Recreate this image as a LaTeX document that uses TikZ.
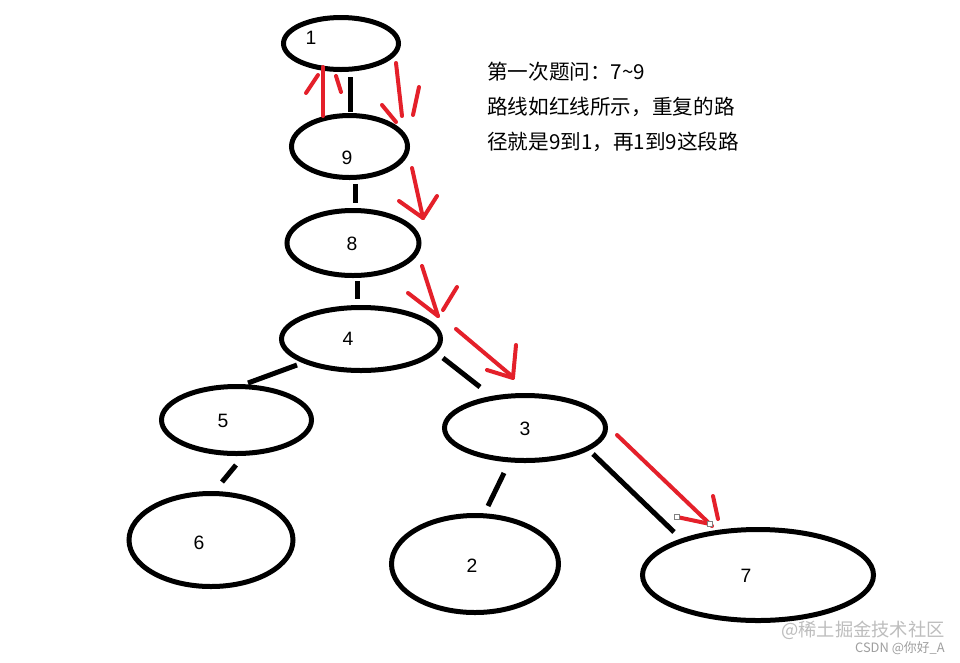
\documentclass[tikz,border=0pt]{standalone}
\usepackage{fontspec}
\setmainfont{Liberation Sans}
\newfontfamily\cjk{Noto Sans CJK SC}
\usetikzlibrary{shapes.geometric,calc}
\definecolor{ink}{HTML}{000000}
\definecolor{route}{HTML}{E4202A}
\definecolor{wmark}{HTML}{BDBDBD}
\newlength\pxu
\setlength\pxu{0.03cm}
\tikzset{
  vert/.style={ellipse, draw=ink, line width=5\pxu, inner sep=0pt},
  num/.style={font=\fontsize{16.5}{18}\selectfont, inner sep=0pt},
  edge/.style={draw=ink, line width=5\pxu},
  pen/.style={draw=route, line width=4\pxu, line cap=round},
  handle/.style={rectangle, draw=gray, fill=white, line width=0.4pt, minimum size=5\pxu, inner sep=0pt},
  note/.style={font=\cjk\fontsize{17.6}{29.75}\selectfont, align=left, inner sep=0pt},
}

\begin{document}
\begin{tikzpicture}[x=0.03cm, y=-0.03cm]
\fill[white] (0,0) rectangle (960,662);
\useasboundingbox (0,0) rectangle (960,662);

% ───────────── tree ─────────────
\node[vert, minimum width=115\pxu, minimum height=52\pxu] (v1) at (341,43.5) {};
\node[vert, minimum width=116\pxu, minimum height=62\pxu] (v9) at (349.5,146.5) {};
\node[vert, minimum width=132\pxu, minimum height=65\pxu] (v8) at (353,243) {};
\node[vert, minimum width=159\pxu, minimum height=63\pxu] (v4) at (361,339) {};
\node[vert, minimum width=150\pxu, minimum height=67\pxu] (v5) at (236.5,420) {};
\node[vert, minimum width=164\pxu, minimum height=93\pxu] (v6) at (211,540) {};
\node[vert, minimum width=161\pxu, minimum height=65\pxu] (v3) at (525,428) {};
\node[vert, minimum width=167\pxu, minimum height=97\pxu] (v2) at (475,564) {};
\node[vert, minimum width=231\pxu, minimum height=91\pxu] (v7) at (758,575) {};

\node[num] (n1) at (311,38) {1};
\node[num] (n9) at (347,158) {9};
\node[num] (n8) at (352,244) {8};
\node[num] (n4) at (348,339) {4};
\node[num] (n5) at (223,421) {5};
\node[num] (n6) at (199,543) {6};
\node[num] (n3) at (525,429) {3};
\node[num] (n2) at (472,566) {2};
\node[num] (n7) at (746,576) {7};

% edges stop short of the ellipses
\draw[edge] ($(v1)+(9,33.5)$) -- ($(v9)+(0.5,-34.5)$);
\draw[edge] ($(v9)+(5.5,37.5)$) -- ($(v8)+(2,-40)$);
\draw[edge] ($(v8)+(4,38)$) -- ($(v4)+(-4,-40)$);
\draw[edge] ($(v4)+(-64,26)$) -- ($(v5)+(11.5,-37)$);
\draw[edge] ($(v5)+(-0.5,45)$) -- ($(v6)+(11,-58)$);
\draw[edge] ($(v4)+(82,19)$) -- ($(v3)+(-45,-41)$);
\draw[edge] ($(v3)+(-21,45)$) -- ($(v2)+(13,-58)$);
\draw[edge] ($(v3)+(68,26)$) -- ($(v7)+(-84,-43)$);

% ───────────── route 7 ~ 9 ─────────────
\coordinate (t1) at ($(v1)+(-18,23.5)$);
\draw[pen] ($(v9)+(-26.5,-30.5)$) -- (t1);
\draw[pen] (t1) ++(-17,26) -- ++(12,-18);
\draw[pen] (t1) ++(18,25) -- ++(-5,-16);

\coordinate (t2) at ($(v9)+(52.5,-30.5)$);
\draw[pen] ($(v1)+(55,19.5)$) -- (t2);
\draw[pen] (t2) ++(-20,-11) -- ++(14,17);
\draw[pen] (t2) ++(17,-29) -- ++(-6,28);

\coordinate (t3) at ($(v8)+(70,-25)$);
\draw[pen] ($(v9)+(62.5,21.5)$) -- (t3);
\draw[pen] (t3) ++(-24,-17) -- ++(24,17);
\draw[pen] (t3) ++(14,-22) -- ++(-14,22);

\coordinate (t4) at ($(v4)+(77,-23)$);
\draw[pen] ($(v8)+(69,23)$) -- (t4);
\draw[pen] (t4) ++(-30,-23) -- ++(30,23);
\draw[pen] (t4) ++(19,-29) -- ++(-14,23);

\coordinate (t5) at ($(v3)+(-12,-51)$);
\draw[pen] ($(v4)+(95,-10)$) -- (t5);
\draw[pen] (t5) ++(-26,-7) -- ++(26,8);
\draw[pen] (t5) ++(3,-32) -- ++(-3,32);

\coordinate (t6) at ($(v7)+(-46,-49)$);
\draw[pen] ($(v3)+(92,7)$) -- (t6);
\draw[pen] (t6) ++(-35,-9) -- ++(33,7);
\draw[pen] (t6) ++(1,-30) -- ++(5,23);
\node[handle] (h1) at ($(t6)+(-35,-9)$) {};
\node[handle] (h2) at ($(t6)+(-2,-2)$) {};

% ───────────── note ─────────────
\node[note, anchor=west] (txt) at (487,107) {第一次题问：7\textasciitilde9\\路线如红线所示，重复的路\\径就是9到1，再1到9这段路};

% watermark
\node[font=\cjk\fontsize{15.6}{16}\selectfont, text=wmark, anchor=east, inner sep=0pt] (wm1) at (945,630) {@稀土掘金技术社区};
\node[font=\cjk\fontsize{11}{12}\selectfont, text=gray!75, anchor=east, inner sep=0pt] (wm2) at (945,648) {CSDN @你好\_A};

\end{tikzpicture}
\end{document}
